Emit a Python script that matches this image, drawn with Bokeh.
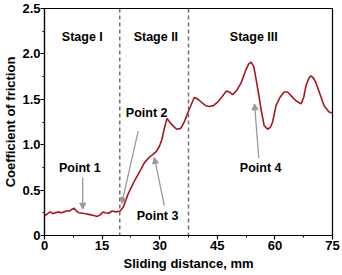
from bokeh.plotting import figure
from bokeh.models import Arrow, NormalHead, Span, Range1d, FixedTicker
from bokeh.core.properties import value
from bokeh.embed import file_html
from bokeh.resources import INLINE

# Friction curve (sliding distance mm, coefficient of friction)
dist = [0.0, 0.8, 1.5, 2.2, 2.8, 3.5, 4.3, 5.0, 5.8, 6.6, 7.2, 7.7, 8.3, 9.0, 9.9, 10.8,
        11.8, 12.8, 13.8, 14.6, 15.2, 15.8, 16.7, 17.6, 18.6, 19.7,
        20.5, 21.7, 23.4, 25.0, 26.0, 27.2, 28.2, 29.2, 29.9, 30.6, 31.2, 31.9,
        32.6, 33.4, 34.4, 35.5, 36.5, 37.7, 38.5, 39.0, 40.0, 40.8, 42.0, 42.9, 44.0,
        45.1, 46.3, 47.3, 48.2, 49.0, 50.1, 51.2, 52.5, 53.2, 53.8, 54.5, 55.1, 55.8,
        56.4, 57.2, 58.1, 58.8, 59.4, 60.3, 61.3, 62.4, 63.3, 64.2, 65.1, 66.0, 66.8,
        67.5, 68.1, 68.8, 69.4, 70.1, 70.7, 71.8, 72.8, 74.1, 75.0]
cof = [0.22, 0.24, 0.26, 0.24, 0.25, 0.26, 0.25, 0.26, 0.27, 0.27, 0.29, 0.30, 0.27, 0.25, 0.245, 0.24,
       0.23, 0.22, 0.21, 0.23, 0.26, 0.25, 0.245, 0.27, 0.26, 0.27,
       0.31, 0.45, 0.60, 0.72, 0.80, 0.86, 0.89, 0.93, 0.98, 1.06, 1.18, 1.29,
       1.25, 1.21, 1.17, 1.18, 1.26, 1.39, 1.47, 1.52, 1.50, 1.47, 1.43, 1.42, 1.43,
       1.47, 1.53, 1.59, 1.58, 1.55, 1.60, 1.68, 1.83, 1.89, 1.91, 1.86, 1.72, 1.55,
       1.39, 1.21, 1.17, 1.19, 1.25, 1.43, 1.52, 1.58, 1.58, 1.54, 1.50, 1.47, 1.45,
       1.52, 1.65, 1.73, 1.76, 1.73, 1.68, 1.55, 1.43, 1.36, 1.35]

stage_x = [19.6, 37.5]

label_text = ["Stage I", "Stage II", "Stage III", "Point 1", "Point 2", "Point 3", "Point 4"]
label_x = [9.85, 29.0, 54.5, 9.2, 26.6, 29.45, 56.3]
label_y = [2.19, 2.19, 2.19, 0.745, 1.35, 0.21, 0.745]

arrow_x0 = [9.95, 24.4, 31.2, 55.8]
arrow_y0 = [0.64, 1.15, 0.33, 0.85]
arrow_x1 = [9.95, 20.1, 28.6, 54.7]
arrow_y1 = [0.29, 0.35, 0.86, 1.45]

x_ticks = [0, 15, 30, 45, 60, 75]
y_ticks = [0, 0.5, 1.0, 1.5, 2.0, 2.5]

FONT = "Liberation Sans"

p = figure(width=342, height=275, output_backend="svg", toolbar_location=None,
           x_range=Range1d(0, 75), y_range=Range1d(0, 2.5),
           min_border_left=44, min_border_right=10, min_border_top=8, min_border_bottom=40)
p.grid.visible = False
p.outline_line_color = "black"
p.outline_line_width = 1.2

p.xaxis.ticker = FixedTicker(ticks=x_ticks, minor_ticks=[7.5, 22.5, 37.5, 52.5, 67.5])
p.yaxis.ticker = FixedTicker(ticks=y_ticks, minor_ticks=[0.25, 0.75, 1.25, 1.75, 2.25])
p.yaxis.major_label_overrides = {0: "0", 0.5: "0.5", 1.0: "1.0", 1.5: "1.5", 2.0: "2.0", 2.5: "2.5"}

for ax in (p.xaxis, p.yaxis):
    ax.axis_line_color = "black"
    ax.axis_line_width = 1.2
    ax.major_tick_line_color = "black"
    ax.minor_tick_line_color = "black"
    ax.major_tick_line_width = 1.2
    ax.minor_tick_line_width = 1
    ax.major_tick_out = 4
    ax.major_tick_in = 0
    ax.minor_tick_out = 2
    ax.minor_tick_in = 0
    ax.major_label_text_font = FONT
    ax.major_label_text_font_style = "bold"
    ax.major_label_text_font_size = "13px"
    ax.major_label_text_color = "black"
    ax.axis_label_text_font = FONT
    ax.axis_label_text_font_style = "bold"
    ax.axis_label_text_font_size = "13px"
    ax.axis_label_text_color = "black"

p.yaxis.major_label_standoff = 0
p.xaxis.major_label_standoff = 1
p.xaxis.axis_label = "Sliding distance, mm"
p.yaxis.axis_label = "Coefficient of friction"
p.xaxis.axis_label_standoff = 3
p.yaxis.axis_label_standoff = 1

for sx in stage_x:
    p.add_layout(Span(location=sx, dimension="height", line_color="#707070",
                      line_width=1.5, line_dash="4 3"))

p.line(dist, cof, line_color="#a8161c", line_width=1.6)

for x0, y0, x1, y1 in zip(arrow_x0, arrow_y0, arrow_x1, arrow_y1):
    p.add_layout(Arrow(end=NormalHead(size=6, fill_color="#999999", line_color="#999999"),
                       x_start=x0, y_start=y0, x_end=x1, y_end=y1,
                       line_color="#999999", line_width=1.3))

p.text(x=label_x, y=label_y, text=label_text, text_font=value(FONT), text_font_style="bold",
       text_font_size="12.5px", text_align="center", text_baseline="middle", text_color="black")

open("out.html", "w").write(file_html(p, INLINE))
